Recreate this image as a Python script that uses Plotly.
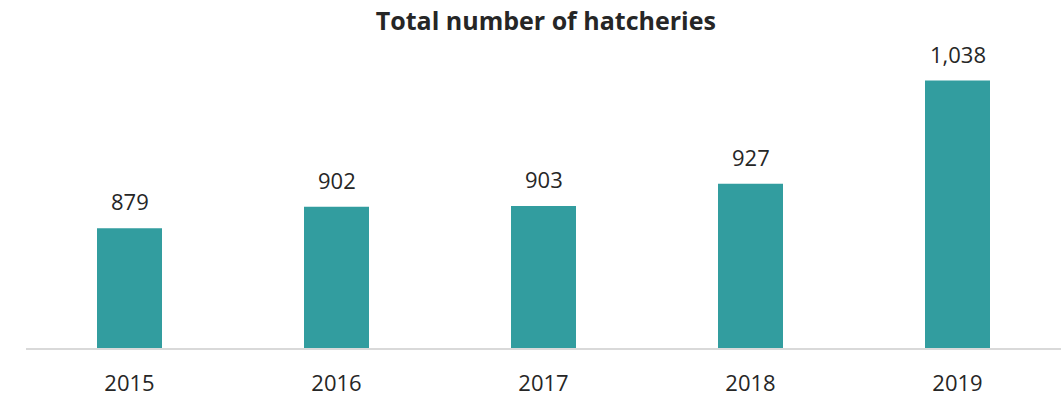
import plotly.graph_objects as go

years = ["2015", "2016", "2017", "2018", "2019"]
hatcheries = [879, 902, 903, 927, 1038]
value_labels = [f"{v:,}" for v in hatcheries]

bar_color = "#329D9F"
text_color = "#262626"
font_family = "Open Sans, Noto Sans, sans-serif"

fig = go.Figure(
    go.Bar(
        x=years,
        y=hatcheries,
        marker=dict(color=bar_color, line=dict(width=0)),
        hoverinfo="x+y",
    )
)

# value labels above each bar (category index positions on the x axis)
for idx, (val, lbl) in enumerate(zip(hatcheries, value_labels)):
    fig.add_annotation(
        x=idx,
        y=val,
        text=lbl,
        showarrow=False,
        yanchor="bottom",
        yshift=10,
        font=dict(size=22, color=text_color, family=font_family),
    )

fig.update_layout(
    width=1064,
    height=397,
    margin=dict(l=26, r=3, t=23, b=49, autoexpand=False),
    paper_bgcolor="white",
    plot_bgcolor="white",
    bargap=0.686,
    showlegend=False,
    font=dict(family=font_family, color=text_color, size=22),
    title=dict(
        text="<b>Total number of hatcheries</b>",
        x=0.513,
        xanchor="center",
        y=0.947,
        yanchor="middle",
        font=dict(size=25, color=text_color, family=font_family),
    ),
)

fig.update_xaxes(
    type="category",
    categoryarray=years,
    automargin=False,
    showline=True,
    linecolor="#D9D9D9",
    linewidth=2,
    ticks="",
    showgrid=False,
    tickfont=dict(size=22, color=text_color),
    ticklabelstandoff=15,
)
fig.update_yaxes(
    range=[750, 1100],
    visible=False,
    showgrid=False,
    zeroline=False,
)

fig.write_html("out.html")
